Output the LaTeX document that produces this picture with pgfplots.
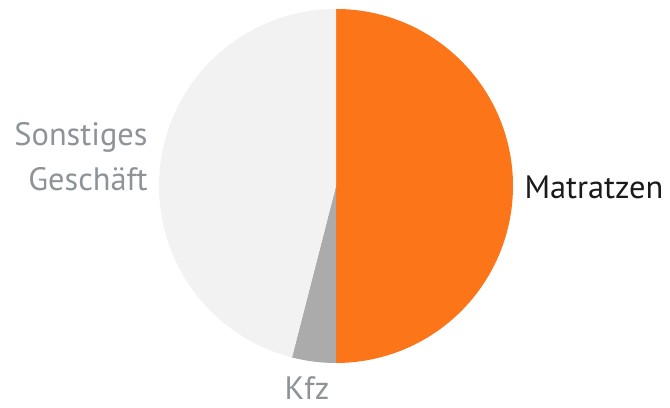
\documentclass[border=0pt]{standalone}
\usepackage{pgfplots}
\pgfplotsset{compat=1.18}
\usepackage{pgfplotstable}
\usepackage{fontspec}
\setmainfont{PT Sans}
\definecolor{pieorange}{HTML}{FD7519}
\definecolor{piegray}{HTML}{ABABAB}
\definecolor{pielight}{HTML}{F2F2F2}
\definecolor{labgray}{HTML}{8E9398}
\definecolor{labdark}{HTML}{1A1A1A}

\pgfplotstableread{
label value
Matratzen 50
Kfz 4
Sonstiges 46
}\piedata

\begin{document}
\begin{tikzpicture}
\pgfplotstablegetelem{0}{value}\of\piedata \let\vA\pgfplotsretval
\pgfplotstablegetelem{1}{value}\of\piedata \let\vB\pgfplotsretval
\pgfmathsetmacro\aA{90-3.6*\vA}
\pgfmathsetmacro\aB{\aA-3.6*\vB}
\begin{axis}[
  scale only axis,
  width=670bp, height=407bp,
  xmin=-336, xmax=334, ymin=-221, ymax=186,
  hide axis, clip=false,
]
\path (axis cs:-336,-221) rectangle (axis cs:334,186);
\fill[pieorange] (axis cs:0,0) -- (axis cs:0,177) arc[start angle=90, end angle=\aA, radius=177bp] -- cycle;
\fill[piegray] (axis cs:0,0) -- ++(\aA:177bp) arc[start angle=\aA, end angle=\aB, radius=177bp] -- cycle;
\fill[pielight] (axis cs:0,0) -- ++(\aB:177bp) arc[start angle=\aB, end angle=-270, radius=177bp] -- cycle;
\node[anchor=west, text=labdark, font=\fontsize{32.5}{34}\selectfont] at (axis cs:185,-1) {Matratzen};
\node[anchor=east, align=right, text=labgray, font=\fontsize{32.5}{45}\selectfont] at (axis cs:-185,29) {Sonstiges\\Geschäft};
\node[text=labgray, font=\fontsize{32.5}{34}\selectfont] at (axis cs:-29,-202) {Kfz};
\end{axis}
\end{tikzpicture}
\end{document}
